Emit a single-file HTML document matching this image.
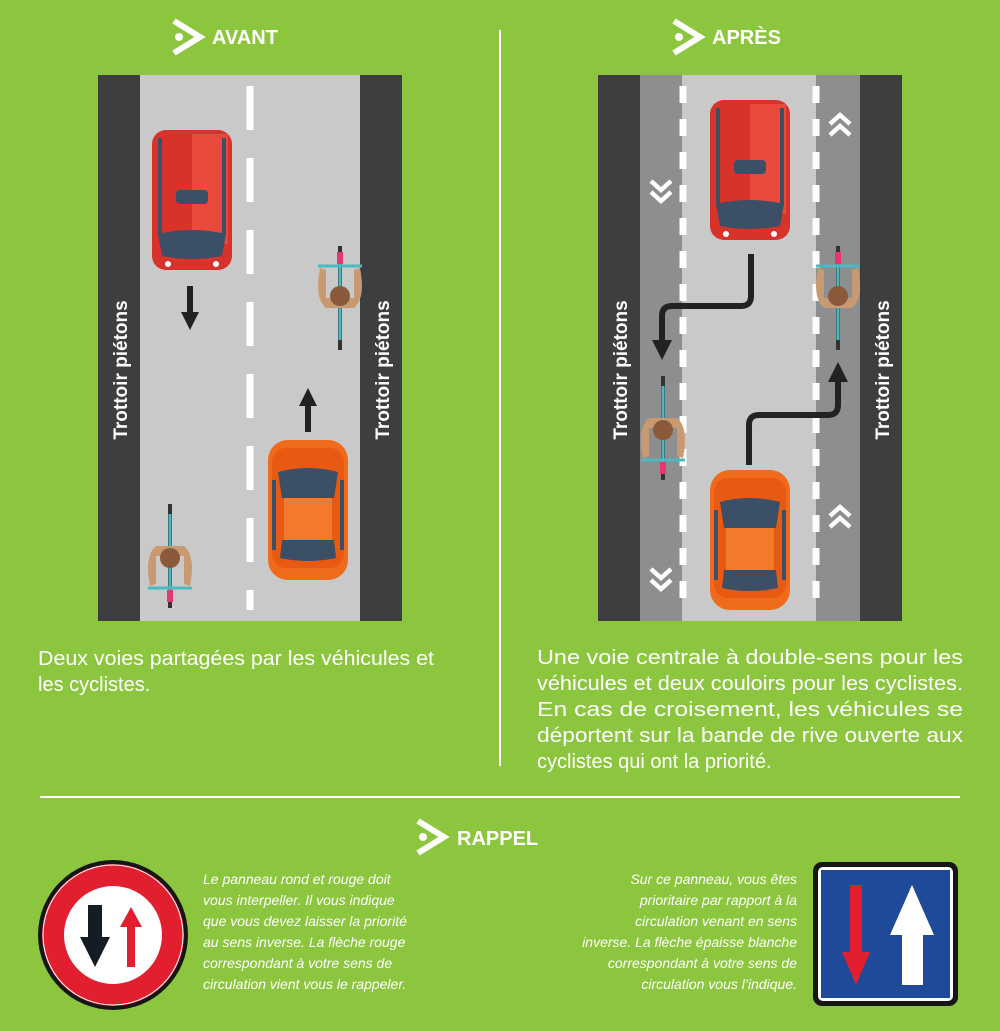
<!DOCTYPE html>
<html><head><meta charset="utf-8"><style>
body{margin:0;background:#8cc63f;}
svg{display:block}
text{font-family:"Liberation Sans",sans-serif;fill:#fff}
</style></head><body>
<svg width="1000" height="1031" viewBox="0 0 1000 1031" xmlns="http://www.w3.org/2000/svg">
<rect width="1000" height="1031" fill="#8cc63f"/>
<defs>
<g id="logo"><path d="M0,-16 L26,0 L0,16" fill="none" stroke="#fff" stroke-width="6"/><circle cx="5" cy="0" r="4" fill="#fff"/></g>
<g id="carDown">
<rect x="-40" y="-70" width="80" height="140" rx="14" fill="#d8332b"/>
<rect x="0" y="-66" width="36" height="110" fill="#ea4a3e"/>
<rect x="-34" y="-62" width="4" height="96" fill="#3b4f66"/>
<rect x="30" y="-62" width="4" height="96" fill="#3b4f66"/>
<rect x="-16" y="-10" width="32" height="14" rx="4" fill="#3b4f66"/>
<path d="M-34,34 Q0,26 34,34 L30,56 Q0,62 -30,56Z" fill="#3b4f66"/>
<circle cx="-24" cy="64" r="3" fill="#fff"/><circle cx="24" cy="64" r="3" fill="#fff"/>
</g>
<g id="carUp">
<rect x="-40" y="-70" width="80" height="140" rx="20" fill="#f06a1c"/>
<rect x="-36" y="-62" width="72" height="120" rx="14" fill="#e85a12"/>
<path d="M-30,-38 Q0,-46 30,-38 L26,-12 L-26,-12Z" fill="#3b4f66"/>
<rect x="-24" y="-12" width="48" height="42" fill="#f27a2a"/>
<path d="M-26,30 L26,30 L28,48 Q0,54 -28,48Z" fill="#3b4f66"/>
<rect x="-36" y="-30" width="4" height="70" fill="#3b4f66"/><rect x="32" y="-30" width="4" height="70" fill="#3b4f66"/>
</g>
<g id="bike">
<rect x="-2" y="-52" width="4" height="104" fill="#333"/>
<rect x="-1.5" y="-42" width="3" height="84" fill="#4bb9c0"/>
<rect x="-3" y="-46" width="6" height="12" fill="#e8366e"/>
<path d="M-22,-32 L22,-32" stroke="#4bb9c0" stroke-width="3"/>
<path d="M-20,-30 Q-26,0 -14,10 L14,10 Q26,0 20,-30 L14,-28 L14,0 L-14,0 L-14,-28Z" fill="#c89a72"/>
<circle cx="0" cy="-2" r="10" fill="#8a5a3a"/>
</g>
<g id="chev"><path d="M-10,0 L0,-9 L10,0 M-10,11 L0,2 L10,11" fill="none" stroke="#fff" stroke-width="4.5"/></g>
</defs>

<use href="#logo" x="174" y="37"/>
<text x="212" y="44" font-size="20" font-weight="bold">AVANT</text>
<use href="#logo" x="674" y="37"/>
<text x="712" y="44" font-size="20" font-weight="bold">APRÈS</text>
<line x1="500" y1="30" x2="500" y2="766" stroke="#fff" stroke-width="2"/>

<!-- LEFT ROAD -->
<rect x="98" y="75" width="304" height="546" fill="#c9c9c9"/>
<rect x="98" y="75" width="42" height="546" fill="#3d3e40"/>
<rect x="360" y="75" width="42" height="546" fill="#3d3e40"/>
<line x1="250" y1="86" x2="250" y2="610" stroke="#fff" stroke-width="7" stroke-dasharray="44,28"/>
<text transform="translate(127,370) rotate(-90)" font-size="19" font-weight="bold" text-anchor="middle">Trottoir piétons</text>
<text transform="translate(389,370) rotate(-90)" font-size="19" font-weight="bold" text-anchor="middle">Trottoir piétons</text>
<use href="#carDown" x="192" y="200"/>
<use href="#carUp" x="308" y="510"/>
<path d="M190,286 V316" stroke="#222" stroke-width="6"/><path d="M181,312 L199,312 L190,330Z" fill="#222"/>
<path d="M308,432 V402" stroke="#222" stroke-width="6"/><path d="M299,406 L317,406 L308,388Z" fill="#222"/>
<use href="#bike" x="340" y="298"/>
<g transform="translate(170,556) rotate(180)"><use href="#bike"/></g>

<!-- RIGHT ROAD -->
<rect x="598" y="75" width="304" height="546" fill="#c9c9c9"/>
<rect x="640" y="75" width="42" height="546" fill="#8d8e90"/>
<rect x="816" y="75" width="44" height="546" fill="#8d8e90"/>
<rect x="598" y="75" width="42" height="546" fill="#3d3e40"/>
<rect x="860" y="75" width="42" height="546" fill="#3d3e40"/>
<line x1="683" y1="86" x2="683" y2="610" stroke="#fff" stroke-width="7" stroke-dasharray="17,16"/>
<line x1="816" y1="86" x2="816" y2="610" stroke="#fff" stroke-width="7" stroke-dasharray="17,16"/>
<text transform="translate(627,370) rotate(-90)" font-size="19" font-weight="bold" text-anchor="middle">Trottoir piétons</text>
<text transform="translate(889,370) rotate(-90)" font-size="19" font-weight="bold" text-anchor="middle">Trottoir piétons</text>
<use href="#chev" x="840" y="124"/>
<use href="#chev" x="840" y="516"/>
<g transform="translate(661,192) rotate(180)"><use href="#chev"/></g>
<g transform="translate(661,580) rotate(180)"><use href="#chev"/></g>
<use href="#carDown" x="750" y="170"/>
<use href="#carUp" x="750" y="540"/>
<path d="M751,254 V296 Q751,306 741,306 H672 Q662,306 662,316 V345" fill="none" stroke="#222" stroke-width="6"/>
<path d="M652,340 L672,340 L662,360Z" fill="#222"/>
<path d="M749,465 V425 Q749,415 759,415 H828 Q838,415 838,405 V378" fill="none" stroke="#222" stroke-width="6"/>
<path d="M828,382 L848,382 L838,362Z" fill="#222"/>
<use href="#bike" x="838" y="298"/>
<g transform="translate(663,428) rotate(180)"><use href="#bike"/></g>

<!-- captions -->
<text font-size="20"><tspan x="38" y="665" textLength="396" lengthAdjust="spacingAndGlyphs">Deux voies partagées par les véhicules et</tspan><tspan x="38" y="691">les cyclistes.</tspan></text>
<text font-size="20"><tspan x="537" y="664" textLength="426" lengthAdjust="spacingAndGlyphs">Une voie centrale à double-sens pour les</tspan><tspan x="537" y="690" textLength="426" lengthAdjust="spacingAndGlyphs">véhicules et deux couloirs pour les cyclistes.</tspan><tspan x="537" y="716" textLength="426" lengthAdjust="spacingAndGlyphs">En cas de croisement, les véhicules se</tspan><tspan x="537" y="742" textLength="426" lengthAdjust="spacingAndGlyphs">déportent sur la bande de rive ouverte aux</tspan><tspan x="537" y="768">cyclistes qui ont la priorité.</tspan></text>

<line x1="40" y1="797" x2="960" y2="797" stroke="#fff" stroke-width="2"/>
<use href="#logo" x="418" y="837"/>
<text x="457" y="845" font-size="20" font-weight="bold">RAPPEL</text>

<!-- round sign -->
<circle cx="113" cy="935" r="75" fill="#161616"/>
<circle cx="113" cy="935" r="71" fill="#e21f2f"/>
<circle cx="113" cy="935" r="70" fill="none" stroke="#fff" stroke-width="1"/>
<circle cx="113" cy="935" r="49" fill="#fff"/>
<path d="M88,905 H102 V937 H110 L95,967 L80,937 H88Z" fill="#161c26"/>
<path d="M127,967 H135 V927 H142 L131,907 L120,927 H127Z" fill="#e21f2f"/>
<text font-size="14" font-style="italic"><tspan x="203" y="884">Le panneau rond et rouge doit</tspan><tspan x="203" y="905">vous interpeller. Il vous indique</tspan><tspan x="203" y="926">que vous devez laisser la priorité</tspan><tspan x="203" y="947">au sens inverse. La flèche rouge</tspan><tspan x="203" y="968">correspondant à votre sens de</tspan><tspan x="203" y="989">circulation vient vous le rappeler.</tspan></text>

<!-- square sign -->
<rect x="813" y="862" width="145" height="144" rx="9" fill="#161616"/>
<rect x="818" y="867" width="135" height="134" rx="5" fill="#fff"/>
<rect x="821" y="870" width="129" height="128" fill="#1f4a9a"/>
<path d="M850,885 H862 V952 H870 L856,985 L842,952 H850Z" fill="#e21f2f"/>
<path d="M902,985 H923 V935 H934 L912,885 L890,935 H902Z" fill="#fff"/>
<text font-size="14" font-style="italic" text-anchor="end"><tspan x="797" y="884">Sur ce panneau, vous êtes</tspan><tspan x="797" y="905">prioritaire par rapport à la</tspan><tspan x="797" y="926">circulation venant en sens</tspan><tspan x="797" y="947">inverse. La flèche épaisse blanche</tspan><tspan x="797" y="968">correspondant à votre sens de</tspan><tspan x="797" y="989">circulation vous l’indique.</tspan></text>
</svg>
</body></html>
